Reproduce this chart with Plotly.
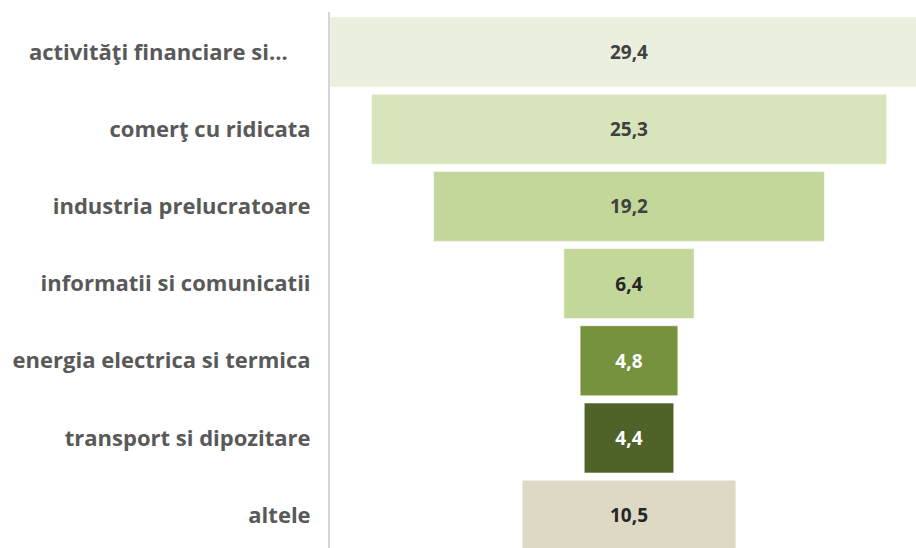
import plotly.graph_objects as go

categories = [
    "activităţi financiare si...\u00a0\u00a0\u00a0\u00a0",
    "comerţ cu ridicata",
    "industria prelucratoare",
    "informatii si comunicatii",
    "energia electrica si termica",
    "transport si dipozitare",
    "altele",
]
values = [29.4, 25.3, 19.2, 6.4, 4.8, 4.4, 10.5]
bar_colors = ["#EBF0DE", "#D8E4BC", "#C4D79B", "#C4D79B", "#76923C", "#4F6228", "#DDD9C4"]
text_colors = ["#404040", "#404040", "#404040", "#262626", "#FFFFFF", "#FFFFFF", "#262626"]

value_labels = [f"{v:.1f}".replace(".", ",") for v in values]

fig = go.Figure(
    go.Funnel(
        y=categories,
        x=values,
        text=value_labels,
        textinfo="text",
        textposition="inside",
        insidetextanchor="middle",
        constraintext="none",
        textfont=dict(family="Open Sans", size=19, color=text_colors, weight="bold"),
        marker=dict(color=bar_colors, line=dict(color="rgba(255,255,255,0.6)", width=1)),
        connector=dict(visible=False),
        hoverinfo="skip",
    )
)

fig.update_layout(
    width=916,
    height=548,
    autosize=False,
    margin=dict(l=330, r=0, t=12, b=0),
    paper_bgcolor="white",
    plot_bgcolor="white",
    funnelgap=0.093,
    showlegend=False,
    font=dict(family="Open Sans"),
)
fig.update_xaxes(visible=False, range=[-14.686, 14.096])
fig.update_yaxes(
    range=[6.425, -0.518],
    showline=True,
    linecolor="#D6D6D6",
    linewidth=2,
    showgrid=False,
    ticks="",
    ticklabelstandoff=13,
    tickfont=dict(family="Open Sans", size=22, color="#595959", weight="bold"),
)

fig.write_html(
    "out.html",
    config={"displayModeBar": False},
    post_script="document.body.style.margin='0';document.body.style.overflow='hidden';",
)
